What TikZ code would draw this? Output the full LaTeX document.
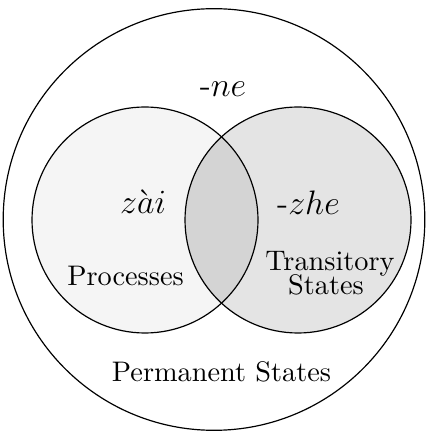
\documentclass[tikz,border=0pt]{standalone}
\usepackage{amsmath}
\definecolor{procfill}{gray}{0.96}
\definecolor{transfill}{gray}{0.895}
\definecolor{lensfill}{gray}{0.83}
\begin{document}
\begin{tikzpicture}[x=0.3534pt,y=-0.3534pt,
  ring/.style={draw=black,line width=0.42pt},
  big/.style={font=\large,anchor=base},
  lbl/.style={font=\normalsize,anchor=base,align=center}]
\useasboundingbox (0,0) rectangle (426,431);
% circles
\coordinate (cP) at (145,220);
\coordinate (cT) at (298,220);
\coordinate (cO) at (214,219.5);
\fill[procfill] (cP) circle[radius=39.93pt];
\fill[transfill] (cT) circle[radius=39.93pt];
\begin{scope}
  \clip (cP) circle[radius=39.93pt];
  \fill[lensfill] (cT) circle[radius=39.93pt];
\end{scope}
\draw[ring] (cP) circle[radius=39.93pt];
\draw[ring] (cT) circle[radius=39.93pt];
\draw[ring] (cO) circle[radius=74.5pt];
% labels
\node[big] (ne) at (223,97) {-$ne$};
\node[big] (zai) at (143,214) {$z\grave{a}i$};
\node[big] (zhe) at (308.5,215) {-$zhe$};
\node[lbl,anchor=base] (proc) at (125.5,286) {Processes};
\node[lbl,anchor=base] (trans1) at (330,271) {Transitory};
\node[lbl,anchor=base] (trans2) at (326,295) {States};
\node[lbl,anchor=base] (perm) at (221.5,381) {Permanent States};
\end{tikzpicture}
\end{document}
